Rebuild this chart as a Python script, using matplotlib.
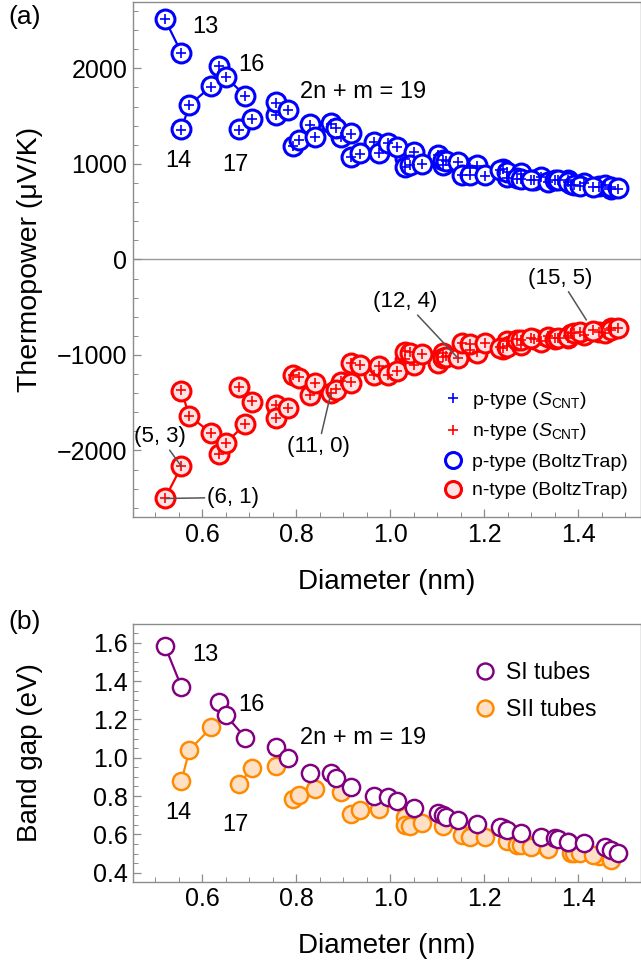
import matplotlib
matplotlib.use("Agg")
import matplotlib.pyplot as plt
from matplotlib.lines import Line2D
from matplotlib.ticker import MultipleLocator, FormatStrFormatter

plt.rcParams['font.family'] = ['Liberation Sans', 'DejaVu Sans']
plt.rcParams['mathtext.fontset'] = 'custom'
plt.rcParams['mathtext.rm'] = 'Liberation Sans'
plt.rcParams['mathtext.it'] = 'Liberation Sans:italic'

# ---- semiconducting nanotubes, grouped by family 2n + m ----
chirality = ["(6,1)", "(5,3)",
             "(7,0)", "(6,2)", "(5,4)",
             "(8,0)", "(7,2)", "(6,4)",
             "(8,1)", "(7,3)", "(6,5)",
             "(9,1)", "(8,3)", "(7,5)",
             "(10,0)", "(9,2)", "(8,4)", "(7,6)",
             "(11,0)", "(10,2)", "(9,4)", "(8,6)",
             "(11,1)", "(10,3)", "(9,5)", "(8,7)",
             "(12,1)", "(11,3)", "(10,5)", "(9,7)",
             "(13,0)", "(12,2)", "(11,4)", "(10,6)", "(9,8)",
             "(14,0)", "(13,2)", "(12,4)", "(11,6)", "(10,8)",
             "(14,1)", "(13,3)", "(12,5)", "(11,7)", "(10,9)",
             "(15,1)", "(14,3)", "(13,5)", "(12,7)", "(11,9)",
             "(16,0)", "(15,2)", "(14,4)", "(13,6)", "(12,8)", "(11,10)",
             "(17,0)", "(16,2)", "(15,4)", "(14,6)", "(13,8)",
             "(17,1)", "(16,3)", "(15,5)", "(14,7)",
             "(18,1)", "(17,3)"]

family = [13, 13,
          14, 14, 14,
          16, 16, 16,
          17, 17, 17,
          19, 19, 19,
          20, 20, 20, 20,
          22, 22, 22, 22,
          23, 23, 23, 23,
          25, 25, 25, 25,
          26, 26, 26, 26, 26,
          28, 28, 28, 28, 28,
          29, 29, 29, 29, 29,
          31, 31, 31, 31, 31,
          32, 32, 32, 32, 32, 32,
          34, 34, 34, 34, 34,
          35, 35, 35, 35,
          37, 37]

diameter = [0.521, 0.556,
            0.556, 0.573, 0.620,
            0.635, 0.650, 0.692,
            0.679, 0.706, 0.758,
            0.758, 0.782, 0.829,
            0.794, 0.806, 0.841, 0.895,
            0.874, 0.884, 0.916, 0.966,
            0.916, 0.936, 0.976, 1.032,
            0.995, 1.014, 1.051, 1.103,
            1.032, 1.042, 1.068, 1.112, 1.170,
            1.112, 1.120, 1.145, 1.186, 1.241,
            1.154, 1.170, 1.202, 1.248, 1.307,
            1.233, 1.248, 1.278, 1.322, 1.378,
            1.271, 1.278, 1.300, 1.336, 1.385, 1.445,
            1.350, 1.357, 1.378, 1.412, 1.458,
            1.392, 1.405, 1.432, 1.471,
            1.471, 1.484]

# thermopower (uV/K), BoltzTrap
sp_boltz = [2513, 2163,
            1364, 1616, 1815,
            2024, 1912, 1713,
            1361, 1469, 1511,
            1644, 1563, 1414,
            1190, 1249, 1284, 1284,
            1424, 1380, 1319, 1230,
            1074, 1110, 1115, 1060,
            1221, 1180, 1127, 1092,
            970, 987, 1000, 990, 955,
            1040, 1035, 1022, 985, 945,
            885, 883, 880, 860, 835,
            935, 920, 900, 868, 832,
            848, 845, 830, 812, 785, 765,
            835, 830, 815, 800, 778,
            778, 770, 760, 735,
            760, 743]

sn_boltz = [-2503, -2168,
            -1376, -1641, -1819,
            -2039, -1924, -1725,
            -1334, -1491, -1526,
            -1665, -1560, -1421,
            -1210, -1240, -1298, -1282,
            -1403, -1365, -1290, -1212,
            -1083, -1107, -1120, -1050,
            -1215, -1170, -1110, -1080,
            -965, -975, -990, -985, -950,
            -1030, -1020, -1037, -975, -935,
            -880, -886, -875, -858, -832,
            -925, -915, -895, -862, -828,
            -840, -845, -827, -810, -778, -758,
            -830, -825, -810, -795, -772,
            -775, -762, -745, -722,
            -740, -722]

# thermopower (uV/K), S_CNT model
sp_scnt = [2513, 2160,
           1360, 1612, 1810,
           2020, 1908, 1710,
           1358, 1466, 1508,
           1640, 1560, 1410,
           1188, 1246, 1280, 1280,
           1420, 1376, 1315, 1226,
           1072, 1106, 1112, 1056,
           1218, 1176, 1124, 1088,
           968, 984, 996, 986, 952,
           1036, 1031, 1018, 982, 942,
           882, 880, 877, 857, 832,
           932, 917, 897, 865, 830,
           845, 842, 827, 810, 782, 762,
           832, 827, 812, 797, 775,
           775, 767, 757, 732,
           757, 740]

sn_scnt = [-2500, -2165,
           -1372, -1637, -1815,
           -2035, -1920, -1721,
           -1331, -1487, -1522,
           -1661, -1556, -1417,
           -1206, -1236, -1294, -1278,
           -1399, -1361, -1286, -1208,
           -1080, -1104, -1116, -1046,
           -1211, -1166, -1106, -1076,
           -962, -972, -986, -981, -946,
           -1026, -1016, -1033, -971, -931,
           -877, -882, -872, -855, -829,
           -921, -911, -891, -858, -824,
           -837, -842, -824, -807, -775, -755,
           -826, -821, -806, -791, -768,
           -771, -758, -741, -719,
           -736, -719]

# band gap (eV)
band_gap = [1.583, 1.370,
            0.878, 1.040, 1.159,
            1.289, 1.223, 1.104,
            0.861, 0.948, 0.958,
            1.057, 0.997, 0.919,
            0.785, 0.805, 0.835, 0.822,
            0.918, 0.893, 0.849, 0.800,
            0.706, 0.727, 0.731, 0.690,
            0.797, 0.772, 0.740, 0.710,
            0.649, 0.642, 0.658, 0.644, 0.622,
            0.700, 0.690, 0.675, 0.652, 0.632,
            0.597, 0.588, 0.585, 0.566, 0.545,
            0.637, 0.625, 0.606, 0.585, 0.562,
            0.545, 0.545, 0.536, 0.522, 0.503, 0.486,
            0.580, 0.574, 0.562, 0.553, 0.532,
            0.501, 0.501, 0.490, 0.466,
            0.520, 0.505]

# tubes joined by a guide line within the smallest families
linked = [["(6,1)", "(5,3)"],
          ["(7,0)", "(6,2)", "(5,4)"],
          ["(8,0)", "(7,2)", "(6,4)"],
          ["(8,1)", "(7,3)"]]

callouts_a = ["(5, 3)", "(6, 1)", "(11, 0)", "(12, 4)", "(15, 5)"]

BLUE = "#0000ff"
RED = "#ff0000"
PINK = "#fde3e3"
PURPLE = "#800080"
ORANGE = "#ff8a00"
PEACH = "#ffe0c4"
FRAME = "#8c8c8c"

si_idx = [i for i, f in enumerate(family) if f % 3 == 1]
sii_idx = [i for i, f in enumerate(family) if f % 3 == 2]
pos = {c: i for i, c in enumerate(chirality)}


def style_axes(ax):
    for s in ax.spines.values():
        s.set_color(FRAME)
        s.set_linewidth(1.0)
    ax.tick_params(which='both', direction='in', color=FRAME, labelsize=18,
                   pad=4, top=False, right=False)
    ax.tick_params(which='major', length=6, width=0.9)
    ax.tick_params(which='minor', length=3.5, width=0.7)
    ax.xaxis.set_major_locator(MultipleLocator(0.2))
    ax.xaxis.set_minor_locator(MultipleLocator(0.05))
    ax.xaxis.set_major_formatter(FormatStrFormatter('%.1f'))
    ax.set_xlim(0.453, 1.534)


fig = plt.figure(figsize=(6.41, 9.69), dpi=100)
W, H = 641.0, 969.0
ax_a = fig.add_axes([133 / W, 1 - 517 / H, 508 / W, 515 / H])
ax_b = fig.add_axes([133 / W, 1 - 881.7 / H, 508 / W, 257.4 / H])

# ---------------- (a) thermopower ----------------
ax = ax_a
style_axes(ax)
ax.set_ylim(-2697, 2695)
ax.yaxis.set_major_locator(MultipleLocator(1000))
ax.yaxis.set_minor_locator(MultipleLocator(200))
ax.axhline(0, color="#999999", lw=1.0, zorder=1)

for grp in linked:
    ii = [pos[c] for c in grp]
    ax.plot([diameter[i] for i in ii], [sp_boltz[i] for i in ii],
            color=BLUE, lw=1.6, zorder=2)
    ax.plot([diameter[i] for i in ii], [sn_boltz[i] for i in ii],
            color=RED, lw=1.6, zorder=2)

ms_a, mew_a = 13.6, 2.2
ax.plot(diameter, sp_boltz, ls='none', marker='o', ms=ms_a, mew=mew_a,
        mec=BLUE, mfc='white', zorder=3)
ax.plot(diameter, sn_boltz, ls='none', marker='o', ms=ms_a, mew=mew_a,
        mec=RED, mfc=PINK, zorder=3)
ax.plot(diameter, sp_scnt, ls='none', marker='+', ms=7, mew=1.2,
        color=BLUE, zorder=4)
ax.plot(diameter, sn_scnt, ls='none', marker='+', ms=7, mew=1.2,
        color=RED, zorder=4)

txt_kw = dict(fontsize=17, ha='center', va='center', color='black')
ax.text(0.606, 2436, "13", **txt_kw)
ax.text(0.706, 2035, "16", **txt_kw)
ax.text(0.550, 1032, "14", **txt_kw)
ax.text(0.670, 987, "17", **txt_kw)
ax.text(0.8085, 1752, "2n + m = 19", fontsize=17, ha='left', va='center')

# chirality call-outs on the n-type branch
callout_text_xy = {"(5, 3)": (0.5106, -1858), "(6, 1)": (0.6666, -2492),
                   "(11, 0)": (0.8474, -1962), "(12, 4)": (1.032, -444),
                   "(15, 5)": (1.3617, -199)}
for lab in callouts_a:
    i = pos[lab.replace(" ", "")]
    ax.annotate(lab, xy=(diameter[i], sn_boltz[i]), xytext=callout_text_xy[lab],
                fontsize=16, ha='center', va='center', zorder=6,
                arrowprops=dict(arrowstyle='-', color="#555555", lw=1.1,
                                shrinkA=0, shrinkB=0 if lab != "(15, 5)" else 9))

handles_a = [
    Line2D([], [], ls='none', marker='+', ms=7, mew=1.2, color=BLUE),
    Line2D([], [], ls='none', marker='+', ms=7, mew=1.2, color=RED),
    Line2D([], [], ls='none', marker='o', ms=11.5, mew=mew_a, mec=BLUE, mfc='white'),
    Line2D([], [], ls='none', marker='o', ms=11.5, mew=mew_a, mec=RED, mfc=PINK),
]
labels_a = [r"p-type ($S_\mathrm{CNT}$)", r"n-type ($S_\mathrm{CNT}$)",
            "p-type (BoltzTrap)", "n-type (BoltzTrap)"]
ax.legend(handles_a, labels_a, loc='upper left', bbox_to_anchor=(0.6075, 0.2475),
          frameon=False, fontsize=14, borderpad=0, borderaxespad=0,
          handlelength=1.2, handletextpad=0.35, labelspacing=0.56)

ax.set_ylabel("Thermopower (μV/K)", fontsize=20.5)
ax.yaxis.set_label_coords(-0.178, 0.5)
ax.set_xlabel("Diameter (nm)", fontsize=20, labelpad=16)
fig.text(8 / W, 1 - 17 / H, "(a)", fontsize=19, ha='left', va='center')

# ---------------- (b) band gap ----------------
ax = ax_b
style_axes(ax)
ax.set_ylim(0.353, 1.696)
ax.yaxis.set_major_locator(MultipleLocator(0.2))
ax.yaxis.set_minor_locator(MultipleLocator(0.05))
ax.yaxis.set_major_formatter(FormatStrFormatter('%.1f'))

for grp in linked:
    ii = [pos[c] for c in grp]
    col = PURPLE if family[ii[0]] % 3 == 1 else ORANGE
    ax.plot([diameter[i] for i in ii], [band_gap[i] for i in ii],
            color=col, lw=1.6, zorder=2)

ms_b, mew_b = 12.4, 1.75
ax.plot([diameter[i] for i in sii_idx], [band_gap[i] for i in sii_idx],
        ls='none', marker='o', ms=ms_b, mew=mew_b, mec=ORANGE, mfc=PEACH, zorder=3)
ax.plot([diameter[i] for i in si_idx], [band_gap[i] for i in si_idx],
        ls='none', marker='o', ms=ms_b, mew=mew_b, mec=PURPLE, mfc='white', zorder=4)

ax.text(0.606, 1.536, "13", **txt_kw)
ax.text(0.706, 1.275, "16", **txt_kw)
ax.text(0.550, 0.710, "14", **txt_kw)
ax.text(0.670, 0.649, "17", **txt_kw)
ax.text(0.8085, 1.101, "2n + m = 19", fontsize=17, ha='left', va='center')

handles_b = [
    Line2D([], [], ls='none', marker='o', ms=11.5, mew=mew_b, mec=PURPLE, mfc='white'),
    Line2D([], [], ls='none', marker='o', ms=11.5, mew=mew_b, mec=ORANGE, mfc=PEACH),
]
ax.legend(handles_b, ["SI tubes", "SII tubes"], loc='upper left',
          bbox_to_anchor=(0.670, 0.857), frameon=False, fontsize=16.5,
          borderpad=0, borderaxespad=0, handlelength=1.0, handletextpad=0.42,
          labelspacing=0.62)

ax.set_ylabel("Band gap (eV)", fontsize=20)
ax.yaxis.set_label_coords(-0.178, 0.5)
ax.set_xlabel("Diameter (nm)", fontsize=20, labelpad=16)
fig.text(8 / W, 1 - 622 / H, "(b)", fontsize=19, ha='left', va='center')

fig.savefig("out.png", dpi=100)
